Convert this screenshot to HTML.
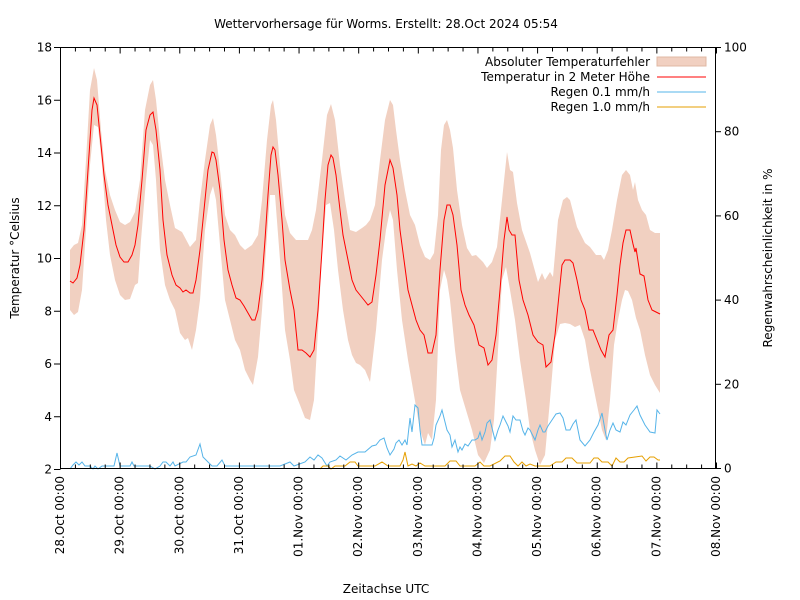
<!DOCTYPE html>
<html><head><meta charset="utf-8"><style>
html,body{margin:0;padding:0;background:#fff}
svg{display:block;font-family:"DejaVu Sans","Liberation Sans",sans-serif}
</style></head><body>
<svg id="s" width="800" height="600" viewBox="0 0 800 600" xmlns="http://www.w3.org/2000/svg">
<rect width="800" height="600" fill="#fff"/>
<text x="386" y="28" font-size="12" text-anchor="middle">Wettervorhersage für Worms. Erstellt: 28.Oct 2024 05:54</text>
<path id="band" fill="#f1d0c1" stroke="none"/>
<path id="temp" fill="none" stroke="#ff0000" stroke-width="1"/>
<path id="blue" fill="none" stroke="#56b4e9" stroke-width="1"/>
<path id="orange" fill="none" stroke="#e69f00" stroke-width="1"/>
<g id="axes" stroke="#000" stroke-width="1" fill="none"></g>
<g id="labels" font-size="12" fill="#000"></g>
<text transform="translate(19,258) rotate(-90)" font-size="12" text-anchor="middle">Temperatur °Celsius</text>
<text transform="translate(772,258) rotate(-90)" font-size="12" text-anchor="middle">Regenwahrscheinlichkeit in %</text>
<text x="386" y="593" font-size="12" text-anchor="middle">Zeitachse UTC</text>
<g font-size="12" text-anchor="end">
<text x="650" y="66">Absoluter Temperaturfehler</text>
<text x="650" y="81">Temperatur in 2 Meter Höhe</text>
<text x="650" y="96">Regen 0.1 mm/h</text>
<text x="650" y="111">Regen 1.0 mm/h</text>
</g>
<rect x="657" y="57" width="49" height="9" fill="#f1d0c1" stroke="#e0b8a4" stroke-width="1"/>
<line x1="657" y1="77" x2="706" y2="77" stroke="#ff0000"/>
<line x1="657" y1="92" x2="706" y2="92" stroke="#56b4e9"/>
<line x1="657" y1="107" x2="706" y2="107" stroke="#e69f00"/>
</svg>
<script>
function P(a){return a.map((p,i)=>(i?'L':'M')+p[0]+' '+p[1]).join(' ');}
var T=[[70,281],[73,283],[77,278],[80,265],[84,230],[88,170],[92,110],[94,98],[97,105],[100,135],[104,175],[108,205],[112,225],[116,245],[120,257],[124,262],[128,262],[132,255],[135,245],[138,225],[142,180],[146,130],[150,115],[153,112],[156,130],[160,170],[163,220],[167,255],[172,275],[176,285],[180,288],[183,292],[186,290],[190,293],[193,293],[196,280],[200,250],[204,210],[208,170],[212,152],[214,153],[216,160],[220,190],[224,240],[228,270],[232,285],[236,298],[240,300],[244,306],[248,313],[252,320],[255,320],[258,310],[262,280],[265,240],[268,195],[271,155],[273,147],[275,150],[278,175],[282,220],[285,260],[290,290],[294,310],[298,350],[302,350],[306,353],[310,357],[314,350],[318,310],[322,250],[325,200],[328,165],[331,155],[333,158],[336,175],[340,210],[343,235],[348,260],[352,280],[356,290],[360,295],[364,300],[368,305],[372,302],[376,275],[380,240],[385,185],[388,170],[390,160],[393,168],[397,195],[400,230],[404,260],[408,290],[412,305],[416,320],[420,330],[424,335],[428,353],[432,353],[436,335],[440,270],[444,220],[447,205],[450,205],[453,215],[457,245],[461,290],[465,305],[469,315],[474,325],[479,345],[484,348],[488,365],[492,360],[496,335],[500,290],[504,240],[507,217],[509,230],[512,235],[515,235],[519,280],[523,300],[528,315],[533,335],[538,342],[543,345],[546,367],[551,362],[555,335],[559,295],[562,265],[565,260],[570,260],[573,263],[577,280],[581,300],[585,310],[589,330],[593,330],[597,340],[601,350],[605,357],[609,335],[613,330],[617,295],[620,265],[623,243],[626,230],[630,230],[633,244],[635,252],[636,248],[640,274],[644,276],[648,300],[652,310],[656,312],[660,314]];
var U=[[70,250],[74,245],[78,243],[82,225],[86,160],[90,90],[94,68],[97,80],[101,130],[105,170],[110,195],[115,210],[120,222],[125,225],[130,222],[135,212],[140,180],[145,110],[150,85],[153,80],[156,100],[160,140],[165,180],[170,205],[175,228],[182,232],[190,247],[196,240],[200,200],[205,160],[210,125],[213,118],[216,135],[220,170],[225,215],[230,230],[235,235],[240,245],[245,250],[252,245],[258,235],[262,200],[267,140],[271,105],[273,100],[276,120],[280,165],[285,215],[290,233],[296,240],[302,240],[308,240],[312,230],[316,210],[322,160],[327,115],[331,104],[335,120],[340,165],[345,200],[350,230],[356,232],[362,228],[366,225],[370,220],[375,205],[380,160],[385,120],[390,100],[393,105],[396,130],[400,160],[405,190],[410,215],[415,225],[420,245],[425,257],[430,260],[434,253],[438,215],[441,150],[444,125],[447,120],[450,130],[453,148],[457,190],[462,225],[467,248],[472,256],[476,255],[483,262],[487,268],[492,262],[497,247],[502,200],[507,152],[510,170],[513,172],[517,203],[522,230],[530,253],[538,282],[542,273],[545,280],[550,272],[553,277],[558,220],[563,200],[567,197],[570,200],[577,227],[585,243],[590,247],[596,255],[601,255],[604,260],[608,250],[612,230],[617,200],[622,175],[626,170],[630,175],[633,190],[635,182],[638,200],[642,210],[646,215],[650,230],[655,233],[660,233]];
var L=[[70,310],[74,315],[78,312],[82,290],[86,230],[90,165],[94,125],[98,127],[102,165],[106,220],[110,255],[115,280],[120,295],[125,300],[130,299],[135,285],[138,283],[141,240],[146,180],[150,140],[153,145],[156,180],[160,250],[165,285],[170,300],[175,310],[180,333],[185,340],[188,338],[192,350],[196,330],[200,300],[205,230],[210,195],[213,186],[216,200],[220,245],[225,300],[230,320],[235,340],[240,350],[245,370],[250,380],[253,385],[258,357],[262,310],[266,250],[270,195],[275,195],[280,260],[285,330],[290,360],[294,390],[300,405],[305,418],[310,420],[314,400],[318,330],[322,255],[326,205],[330,203],[334,230],[338,270],[343,310],[348,340],[352,355],[356,363],[360,365],[365,370],[370,382],[376,330],[382,260],[386,230],[390,210],[393,220],[397,270],[402,320],[408,360],[414,395],[420,430],[425,445],[428,433],[432,440],[436,400],[440,290],[444,270],[447,280],[450,300],[455,350],[460,390],[466,410],[472,430],[478,455],[484,463],[490,450],[494,420],[498,350],[502,280],[506,267],[510,290],[515,320],[520,360],[526,400],[530,430],[535,450],[540,465],[545,455],[550,400],[555,340],[560,324],[565,323],[570,324],[575,327],[580,325],[585,340],[590,370],[596,400],[602,430],[606,440],[610,400],[614,345],[618,320],[622,300],[625,290],[628,291],[632,300],[636,318],[640,330],[645,355],[650,375],[655,385],[660,393]];
document.getElementById('band').setAttribute('d',P(U)+' '+P(L.slice().reverse()).replace('M','L')+' Z');
document.getElementById('temp').setAttribute('d',P(T));
var B=[[70,469],[73,465],[76,462],[79,465],[82,462],[85,466],[90,466],[93,469],[95,466],[98,469],[102,466],[114,466],[117,453],[120,466],[130,466],[132,462],[134,466],[150,466],[155,469],[160,466],[163,462],[166,462],[170,466],[173,462],[175,466],[183,462],[186,462],[190,457],[196,455],[200,444],[203,457],[208,462],[212,466],[217,466],[222,460],[225,466],[240,466],[260,466],[280,466],[290,462],[294,466],[305,462],[310,457],[314,460],[318,455],[322,458],[327,466],[330,462],[336,460],[340,456],[346,460],[352,455],[358,452],[365,452],[372,446],[376,445],[380,440],[384,438],[387,448],[390,455],[394,449],[396,443],[399,440],[402,445],[405,440],[407,445],[410,418],[412,432],[415,405],[418,408],[420,430],[422,445],[432,445],[434,438],[436,425],[440,416],[442,410],[445,422],[447,430],[450,435],[452,447],[455,440],[458,452],[460,447],[462,450],[465,444],[468,446],[472,440],[475,440],[478,438],[480,432],[482,440],[485,432],[487,423],[490,420],[492,428],[495,440],[498,430],[500,425],[503,416],[505,420],[508,426],[510,432],[513,416],[516,420],[520,420],[523,431],[525,435],[528,428],[530,430],[533,436],[535,440],[538,430],[540,425],[543,432],[545,432],[548,426],[552,420],[556,414],[560,413],[563,418],[566,430],[570,430],[573,424],[576,420],[580,440],[585,446],[590,440],[594,432],[598,425],[602,413],[605,430],[607,440],[610,430],[613,423],[616,430],[620,432],[623,422],[626,425],[630,415],[634,410],[637,406],[640,415],[645,425],[650,432],[655,433],[657,410],[660,414]];
document.getElementById('blue').setAttribute('d',P(B));
var O=[[320,469],[323,466],[328,466],[331,469],[335,466],[340,466],[345,466],[350,462],[355,462],[358,466],[375,466],[382,462],[388,466],[400,466],[403,460],[405,452],[408,466],[412,464],[416,466],[420,463],[425,466],[430,466],[438,466],[445,466],[450,461],[456,461],[460,466],[470,466],[475,466],[480,462],[484,466],[490,466],[500,461],[505,456],[510,456],[514,462],[518,466],[522,462],[526,466],[530,464],[535,466],[545,466],[550,466],[556,462],[562,462],[566,458],[572,458],[577,463],[582,463],[590,463],[594,458],[598,458],[602,462],[608,462],[612,466],[616,458],[620,462],[624,462],[628,458],[635,457],[642,456],[646,461],[650,457],[654,457],[658,460],[660,460]];
document.getElementById('orange').setAttribute('d',P(O));
var ax=document.getElementById('axes'),lb=document.getElementById('labels'),NS='http://www.w3.org/2000/svg';
function el(p,t,a,txt){var e=document.createElementNS(NS,t);for(var k in a)e.setAttribute(k,a[k]);if(txt)e.textContent=txt;p.appendChild(e);return e;}
el(ax,'rect',{x:60.5,y:47.5,width:655,height:421});
for(var v=2;v<=18;v+=2){var y=47.5+(18-v)*26.375;el(ax,'line',{x1:54,y1:y,x2:60.5,y2:y});el(lb,'text',{x:52,y:y+4,'text-anchor':'end'},''+v);}
for(var r=0;r<=100;r+=20){var y=468.5-r*4.21;el(ax,'line',{x1:715.5,y1:y,x2:721,y2:y});el(lb,'text',{x:724,y:y+4},''+r);}
var days=['28.Oct','29.Oct','30.Oct','31.Oct','01.Nov','02.Nov','03.Nov','04.Nov','05.Nov','06.Nov','07.Nov','08.Nov'];
for(var i=0;i<=44;i++){var x=60.5+i*14.909;var h=(i%4==0)?6:4;el(ax,'line',{x1:x,y1:468.5,x2:x,y2:468.5-h});el(ax,'line',{x1:x,y1:47.5,x2:x,y2:47.5+h});}
for(var d=0;d<12;d++){var x=60+d*59.636;el(lb,'text',{transform:'translate('+(x+4)+',476) rotate(-90)','text-anchor':'end'},days[d]+' 00:00');}
</script>
</body></html>
